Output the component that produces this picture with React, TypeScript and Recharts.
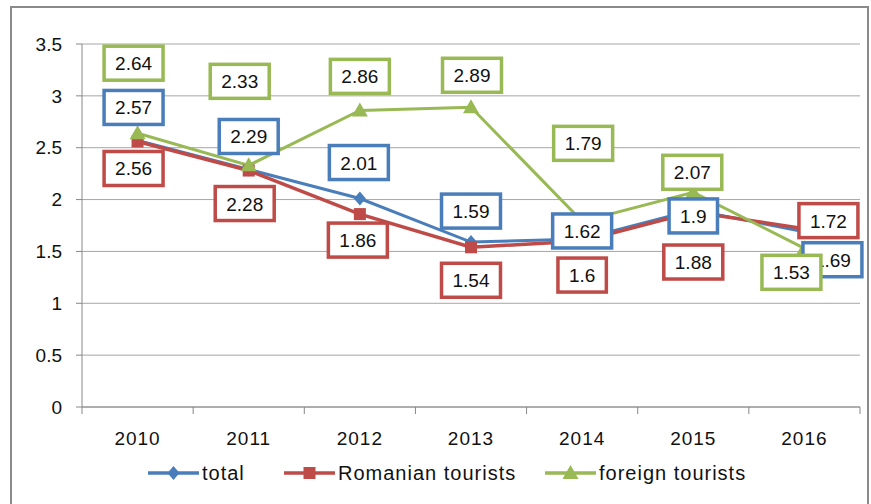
import React from 'react'
import { LineChart, Line, XAxis, YAxis, CartesianGrid, LabelList } from 'recharts'

const years = ['2010', '2011', '2012', '2013', '2014', '2015', '2016']
const total = [2.57, 2.29, 2.01, 1.59, 1.62, 1.9, 1.69]
const romanian = [2.56, 2.28, 1.86, 1.54, 1.6, 1.88, 1.72]
const foreign = [2.64, 2.33, 2.86, 2.89, 1.79, 2.07, 1.53]
const yTicks = [0, 0.5, 1, 1.5, 2, 2.5, 3, 3.5]

const BLUE = '#4a7ebb'
const RED = '#be4b48'
const GREEN = '#98b954'
const FONT = "'Liberation Sans', Arial, sans-serif"

// label box offsets from the point (manual placement as in the source)
const totalOff = [[-4, -33], [0, -33], [-1, -36], [0, -31], [0, -8], [0, 6], [28, 28]]
const romOff = [[-4, 27], [-4, 33], [-2, 26], [0, 33], [0, 34], [0, 50], [24, -8]]
const forOff = [[-4, -70], [-9, -84], [0, -34], [1, -32], [1, -78], [-1, -20], [-13, 24]]

const data = years.map((y, i) => ({ year: y, total: total[i], romanian: romanian[i], foreign: foreign[i] }))

const BAND = (860 - 82) / 7

const textW = (s: string, fs: number) => s.split('').reduce((w, c) => w + (c === '.' ? 0.278 : 0.556) * fs, 0)

const makeLabel = (color: string, offs: number[][]) => (p: any) => {
  const { x, y, value, index } = p
  const s = String(value)
  const fs = 19
  const w = textW(s, fs) + 22
  const h = 34
  const cx = x + offs[index][0]
  const cy = y + offs[index][1]
  return (
    <g>
      <rect x={cx - w / 2} y={cy - h / 2} width={w} height={h} fill="#fff" stroke={color} strokeWidth={3.5} />
      <text x={cx} y={cy + 7} textAnchor="middle" fontSize={fs} fontFamily={FONT} fill="#111">
        {s}
      </text>
    </g>
  )
}

const Diamond = ({ cx, cy, color }: any) => (
  <polygon points={`${cx},${cy - 7} ${cx + 6},${cy} ${cx},${cy + 7} ${cx - 6},${cy}`} fill={color} />
)
const Square = ({ cx, cy, color }: any) => <rect x={cx - 6} y={cy - 6} width={12} height={12} fill={color} />
const Triangle = ({ cx, cy, color }: any) => (
  <polygon points={`${cx},${cy - 8} ${cx + 8},${cy + 6} ${cx - 8},${cy + 6}`} fill={color} />
)

const XTick = (p: any) => {
  const { x, y, payload, index } = p
  return (
    <g>
      <line x1={x - BAND / 2} y1={y} x2={x - BAND / 2} y2={y + 7} stroke="#888" />
      {index === years.length - 1 && <line x1={x + BAND / 2} y1={y} x2={x + BAND / 2} y2={y + 7} stroke="#888" />}
      <text x={x} y={y + 38} textAnchor="middle" fontSize={19} letterSpacing={1} fontFamily={FONT} fill="#111">
        {payload.value}
      </text>
    </g>
  )
}

const legendItems = [
  { name: 'total', color: BLUE, Mark: Diamond, left: 148 },
  { name: 'Romanian tourists', color: RED, Mark: Square, left: 284 },
  { name: 'foreign tourists', color: GREEN, Mark: Triangle, left: 545 },
]

export default function App() {
  return (
    <div style={{ position: 'absolute', left: 0, top: 0, width: 871, height: 504, background: '#fff', overflow: 'hidden' }}>
      <div style={{ position: 'absolute', left: 10, top: 6, width: 855, height: 520, border: '2px solid #8a8a8a' }} />
      <div style={{ position: 'absolute', left: 0, top: 0 }}>
        <LineChart width={871} height={504} data={data} margin={{ top: 44, right: 11, left: 0, bottom: 0 }}>
          <CartesianGrid vertical={false} stroke="#a6a6a6" />
          <XAxis
            dataKey="year"
            height={97}
            padding={{ left: BAND / 2, right: BAND / 2 }}
            tickLine={false}
            tickSize={0}
            tickMargin={0}
            axisLine={{ stroke: '#888' }}
            tick={<XTick />}
            interval={0}
          />
          <YAxis
            width={82}
            domain={[0, 3.5]}
            ticks={yTicks}
            tickSize={6}
            tickMargin={14}
            axisLine={{ stroke: '#888' }}
            tickLine={{ stroke: '#888' }}
            tick={{ fontSize: 19, fontFamily: FONT, fill: '#111' }}
          />
          <Line dataKey="total" stroke={BLUE} strokeWidth={3} isAnimationActive={false} dot={(p: any) => <Diamond key={p.index} cx={p.cx} cy={p.cy} color={BLUE} />} />
          <Line dataKey="romanian" stroke={RED} strokeWidth={3.5} isAnimationActive={false} dot={(p: any) => <Square key={p.index} cx={p.cx} cy={p.cy} color={RED} />} />
          <Line dataKey="foreign" stroke={GREEN} strokeWidth={3} isAnimationActive={false} dot={(p: any) => <Triangle key={p.index} cx={p.cx} cy={p.cy} color={GREEN} />} />
          <Line dataKey="total" stroke="none" dot={false} activeDot={false} legendType="none" isAnimationActive={false}>
            <LabelList dataKey="total" content={makeLabel(BLUE, totalOff)} />
          </Line>
          <Line dataKey="romanian" stroke="none" dot={false} activeDot={false} legendType="none" isAnimationActive={false}>
            <LabelList dataKey="romanian" content={makeLabel(RED, romOff)} />
          </Line>
          <Line dataKey="foreign" stroke="none" dot={false} activeDot={false} legendType="none" isAnimationActive={false}>
            <LabelList dataKey="foreign" content={makeLabel(GREEN, forOff)} />
          </Line>
        </LineChart>
      </div>
      {legendItems.map((it) => (
        <div
          key={it.name}
          style={{ position: 'absolute', left: it.left, top: 460, display: 'flex', alignItems: 'center', fontFamily: FONT, fontSize: 20, letterSpacing: 1, color: '#111', whiteSpace: 'nowrap' }}
        >
          <svg width={51} height={26}>
            <line x1={0} y1={13} x2={51} y2={13} stroke={it.color} strokeWidth={3.5} />
            <it.Mark cx={25.5} cy={13} color={it.color} />
          </svg>
          <span style={{ marginLeft: 3 }}>{it.name}</span>
        </div>
      ))}
    </div>
  )
}
